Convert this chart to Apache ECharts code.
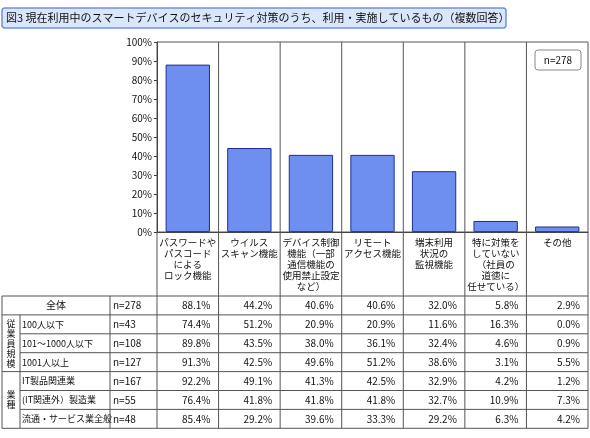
<!DOCTYPE html>
<html>
<head>
<meta charset="UTF-8">
<script src="https://cdn.jsdelivr.net/npm/echarts@6/dist/echarts.min.js"></script>
<style>body{margin:0;background:#fff}#c{width:590px;height:438px}</style>
</head>
<body>
<div id="c"></div>
<script>
var categories = ['パスワードや\nパスコード\nによる\nロック機能', 'ウイルス\nスキャン機能', 'デバイス制御\n機能（一部\n通信機能の\n使用禁止設定\nなど）', 'リモート\nアクセス機能', '端末利用\n状況の\n監視機能', '特に対策を\nしていない\n（社員の\n道徳に\n任せている）', 'その他'];
var overall = [88.1, 44.2, 40.6, 40.6, 32.0, 5.8, 2.9];
var rowLabels = ['全体', '100人以下', '101～1000人以下', '1001人以上', 'IT製品関連業', '(IT関連外）製造業', '流通・サービス業全般'];
var rowN = ['n=278', 'n=43', 'n=108', 'n=127', 'n=167', 'n=55', 'n=48'];
var tableValues = [
  [88.1, 44.2, 40.6, 40.6, 32.0, 5.8, 2.9],
  [74.4, 51.2, 20.9, 20.9, 11.6, 16.3, 0.0],
  [89.8, 43.5, 38.0, 36.1, 32.4, 4.6, 0.9],
  [91.3, 42.5, 49.6, 51.2, 38.6, 3.1, 5.5],
  [92.2, 49.1, 41.3, 42.5, 32.9, 4.2, 1.2],
  [76.4, 41.8, 41.8, 41.8, 32.7, 10.9, 7.3],
  [85.4, 29.2, 39.6, 33.3, 29.2, 6.3, 4.2]
];
var groups = [['従\n業\n員\n規\n模', 1, 3], ['業\n種', 4, 6]];

var font = '"Noto Sans CJK JP", sans-serif';
var L = 157, R = 588, T = 42, B = 232;
var colW = (R - L) / categories.length;
var tTop = 296, rowH = 18.9, tBot = tTop + rowH * rowLabels.length;
var g = [];
function line(x1, y1, x2, y2) {
  g.push({type: 'line', shape: {x1: x1, y1: y1, x2: x2, y2: y2}, style: {stroke: '#555', lineWidth: 1}, z: 10});
}
function text(x, y, s, align, size, lh) {
  g.push({type: 'text', x: x, y: y, style: {text: s, font: (size || 10) + 'px ' + font, fill: '#111', align: align || 'center', verticalAlign: 'middle', lineHeight: lh || 11}, z: 11});
}
// title
g.push({type: 'rect', shape: {x: 2, y: 8, width: 504, height: 20, r: 3}, style: {fill: '#d9e6fb', stroke: '#6f93df', lineWidth: 1.5}});
g.push({type: 'text', x: 6, y: 18, style: {text: '図3 現在利用中のスマートデバイスのセキュリティ対策のうち、利用・実施しているもの（複数回答）', font: '11px ' + font, fill: '#111', verticalAlign: 'middle'}});
// n box
g.push({type: 'rect', shape: {x: 535, y: 50, width: 46, height: 20, r: 3}, style: {fill: '#fff', stroke: '#888'}});
g.push({type: 'text', x: 558, y: 60, style: {text: 'n=278', font: '10px ' + font, fill: '#111', align: 'center', verticalAlign: 'middle'}});
// table grid
for (var i = 0; i <= categories.length; i++) line(L + colW * i, T, L + colW * i, tBot);
line(L, T, R, T);
line(L, B, R, B);
line(2, tTop, 2, tBot);
line(110, tTop, 110, tBot);
line(20, tTop + rowH, 20, tBot);
line(2, tTop, R, tTop);
for (var r = 1; r <= rowLabels.length; r++) {
  var inner = (r === 2 || r === 3 || r === 5 || r === 6);
  line(inner ? 20 : 2, tTop + rowH * r, R, tTop + rowH * r);
}
for (var r = 0; r < rowLabels.length; r++) {
  var cy = tTop + rowH * (r + 0.5);
  if (r === 0) text(56, cy, rowLabels[r]); else text(22, cy, rowLabels[r], 'left', 9);
  text(113, cy, rowN[r], 'left');
  for (var c = 0; c < categories.length; c++) {
    text(L + colW * (c + 1) - 8, cy, tableValues[r][c].toFixed(1) + '%', 'right');
  }
}
groups.forEach(function (gr) {
  text(11, tTop + rowH * ((gr[1] + gr[2] + 1) / 2), gr[0], 'center', 9, 10);
});

var chart = echarts.init(document.getElementById('c'));
chart.setOption({
  animation: false,
  grid: {left: L, right: 590 - R, top: T, bottom: 438 - B},
  xAxis: {
    type: 'category', data: categories,
    axisLine: {lineStyle: {color: '#333'}}, axisTick: {show: false},
    axisLabel: {interval: 0, color: '#111', fontSize: 9.5, fontFamily: font, lineHeight: 11, verticalAlign: 'top', margin: 5}
  },
  yAxis: {
    type: 'value', min: 0, max: 100, interval: 10,
    axisLine: {show: true, lineStyle: {color: '#333'}},
    axisTick: {show: true, length: 3, lineStyle: {color: '#333'}},
    splitLine: {show: false},
    axisLabel: {formatter: '{value}%', color: '#111', fontSize: 10, fontFamily: font, margin: 5}
  },
  series: [{
    type: 'bar', data: overall, barWidth: '72%',
    itemStyle: {color: '#6f8ff0', borderColor: '#1f2f8f', borderWidth: 1}
  }],
  graphic: g
});
</script>
</body>
</html>
